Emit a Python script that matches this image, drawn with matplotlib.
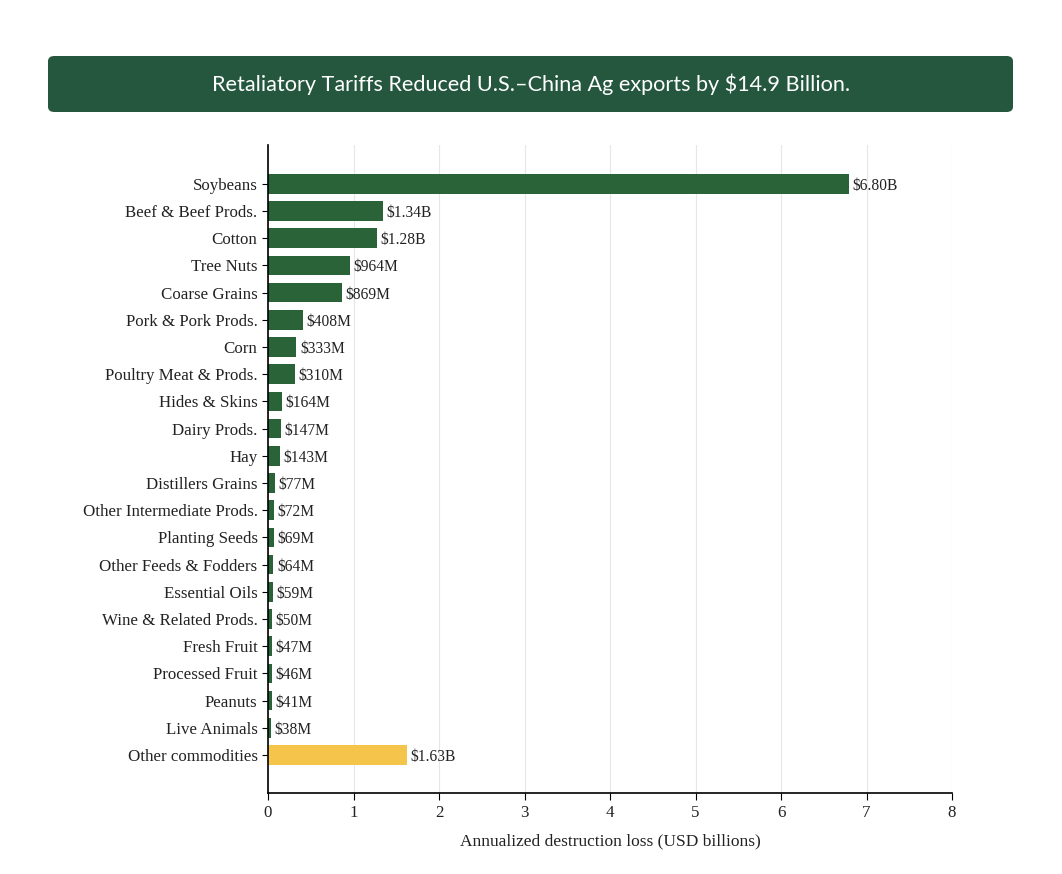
import matplotlib.pyplot as plt
from matplotlib.patches import FancyBboxPatch

# commodity names, top to bottom
commodities = ['Soybeans', 'Beef & Beef Prods.', 'Cotton', 'Tree Nuts', 'Coarse Grains',
               'Pork & Pork Prods.', 'Corn', 'Poultry Meat & Prods.', 'Hides & Skins',
               'Dairy Prods.', 'Hay', 'Distillers Grains', 'Other Intermediate Prods.',
               'Planting Seeds', 'Other Feeds & Fodders', 'Essential Oils',
               'Wine & Related Prods.', 'Fresh Fruit', 'Processed Fruit', 'Peanuts',
               'Live Animals', 'Other commodities']
# loss, USD billions
losses = [6.80, 1.34, 1.28, 0.964, 0.869, 0.408, 0.333, 0.310, 0.164, 0.147, 0.143,
          0.077, 0.072, 0.069, 0.064, 0.059, 0.050, 0.047, 0.046, 0.041, 0.038, 1.63]
value_labels = ['$6.80B', '$1.34B', '$1.28B', '$964M', '$869M', '$408M', '$333M', '$310M',
                '$164M', '$147M', '$143M', '$77M', '$72M', '$69M', '$64M', '$59M', '$50M',
                '$47M', '$46M', '$41M', '$38M', '$1.63B']
x_ticks = [0, 1, 2, 3, 4, 5, 6, 7, 8]

GREEN = '#2b6339'
YELLOW = '#f5c54b'
BANNER = '#25573f'
serif = ['Liberation Serif', 'DejaVu Serif']

fig = plt.figure(figsize=(10.62, 8.74), dpi=100)

# title banner
fig.patches.append(FancyBboxPatch((48 / 1062, 1 - 112 / 874), (1013 - 48) / 1062, 56 / 874,
                                  boxstyle='round,pad=0,rounding_size=0.006',
                                  transform=fig.transFigure, facecolor=BANNER,
                                  edgecolor='none', zorder=0))
fig.text(0.5, 1 - 84 / 874, 'Retaliatory Tariffs Reduced U.S.\u2013China Ag exports by $14.9 Billion.',
         ha='center', va='center', color='white', fontsize=15.6, family=['Lato', 'DejaVu Sans'])

ax = fig.add_axes([268 / 1062, 1 - 793 / 874, (952 - 268) / 1062, (793 - 145) / 874])
ypos = list(range(len(commodities)))
colors = [GREEN] * (len(commodities) - 1) + [YELLOW]
ax.barh(ypos, losses, height=0.72, color=colors, zorder=2)
for y, v, lab in zip(ypos, losses, value_labels):
    ax.text(v + 0.04, y, lab, va='center_baseline', ha='left', fontsize=11.2, family=serif,
            color='#222222')

ax.set_ylim(len(commodities) - 1 + 1.4, -1.43)
ax.set_xlim(0, 8)
ax.set_yticks(ypos)
ax.set_yticklabels(commodities, family=serif, fontsize=12.2, color='#222222')
ax.set_xticks(x_ticks)
ax.set_xticklabels([str(t) for t in x_ticks], family=serif, fontsize=12.2, color='#222222')
ax.set_xlabel('Annualized destruction loss (USD billions)', family=serif, fontsize=12.5,
              color='#222222', labelpad=9)
ax.grid(axis='x', color='#e6e6e6', linewidth=0.8, zorder=0)
ax.spines['top'].set_visible(False)
ax.spines['right'].set_visible(False)
ax.spines['left'].set_linewidth(1.2)
ax.spines['bottom'].set_linewidth(1.2)
ax.tick_params(axis='y', length=4, width=0.8)
ax.tick_params(axis='x', length=5, width=0.8)

fig.savefig('out.png', dpi=100, facecolor='white')
